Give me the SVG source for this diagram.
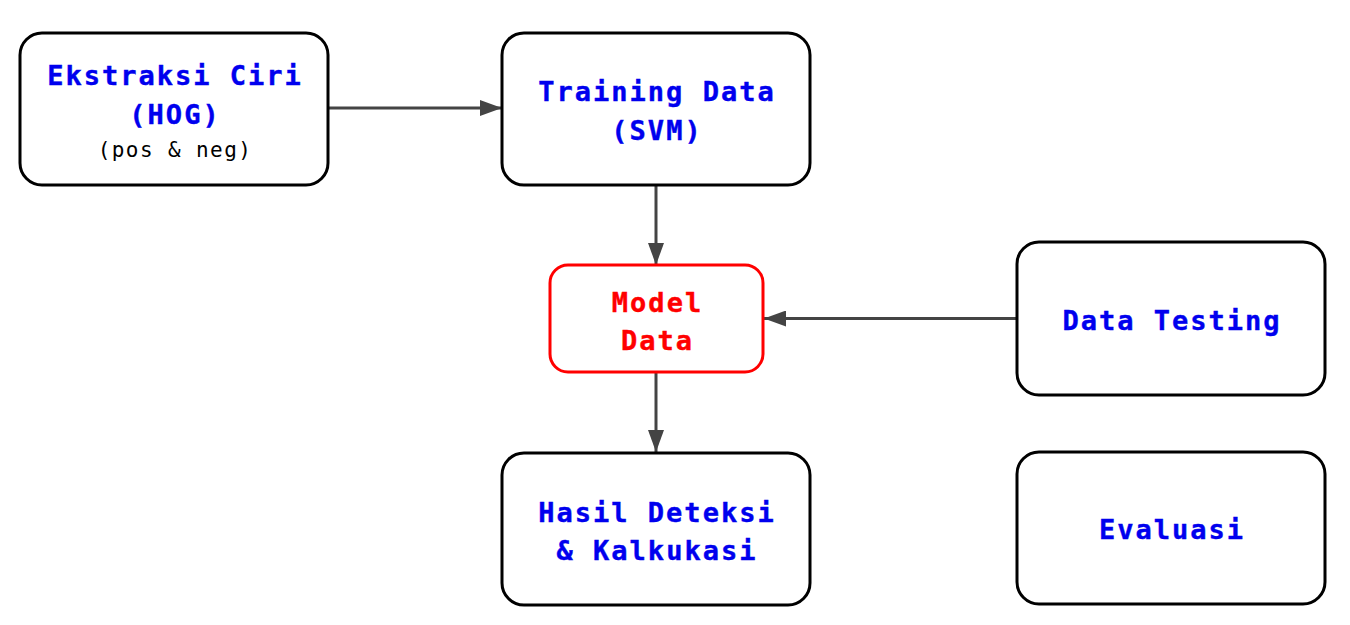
<svg xmlns="http://www.w3.org/2000/svg" width="1350" height="625" viewBox="0 0 1350 625">
<style>
.box{fill:#fff;stroke:#000;stroke-width:3}
.red{fill:#fff;stroke:#f00;stroke-width:3}
.t{font-family:"DejaVu Sans Mono","Liberation Mono",monospace;font-weight:bold;font-size:27px;letter-spacing:2px;fill:#0000ee;stroke:#0000ee;stroke-width:0.4;text-anchor:middle}
.r{fill:#f00;stroke:#f00}
.s{font-family:"DejaVu Sans Mono","Liberation Mono",monospace;font-size:21px;letter-spacing:1.4px;fill:#000;text-anchor:middle}
.c{stroke:#444;stroke-width:3;fill:none}
</style>
<defs>
<marker id="ah" markerWidth="22" markerHeight="16" refX="22" refY="8" orient="auto" markerUnits="userSpaceOnUse">
<path d="M0,0 L22,8 L0,16 Z" fill="#444"/>
</marker>
</defs>
<g id="connectors">
<line class="c" x1="328" y1="108" x2="502" y2="108" marker-end="url(#ah)"/>
<line class="c" x1="656" y1="185" x2="656" y2="265" marker-end="url(#ah)"/>
<line class="c" x1="1017" y1="318.5" x2="764" y2="318.5" marker-end="url(#ah)"/>
<line class="c" x1="656" y1="372" x2="656" y2="452" marker-end="url(#ah)"/>
</g>
<g id="ekstraksi">
<rect class="box" x="20" y="33" width="308" height="152" rx="22"/>
<text class="t" x="175" y="85">Ekstraksi Ciri</text>
<text class="t" x="175" y="123.5">(HOG)</text>
<text class="s" x="175" y="157">(pos &amp; neg)</text>
</g>
<g id="training">
<rect class="box" x="502" y="33" width="308" height="152" rx="22"/>
<text class="t" x="657" y="101">Training Data</text>
<text class="t" x="657" y="140">(SVM)</text>
</g>
<g id="model">
<rect class="red" x="550" y="265" width="213" height="107" rx="18"/>
<text class="t r" x="657.5" y="311.5">Model</text>
<text class="t r" x="657.5" y="349.5">Data</text>
</g>
<g id="testing">
<rect class="box" x="1017" y="242" width="308" height="153" rx="22"/>
<text class="t" x="1172" y="329.5">Data Testing</text>
</g>
<g id="hasil">
<rect class="box" x="502" y="453" width="308" height="152" rx="22"/>
<text class="t" x="657" y="521.5">Hasil Deteksi</text>
<text class="t" x="657" y="560">&amp; Kalkukasi</text>
</g>
<g id="evaluasi">
<rect class="box" x="1017" y="452" width="308" height="152" rx="22"/>
<text class="t" x="1172" y="538.5">Evaluasi</text>
</g>
</svg>
